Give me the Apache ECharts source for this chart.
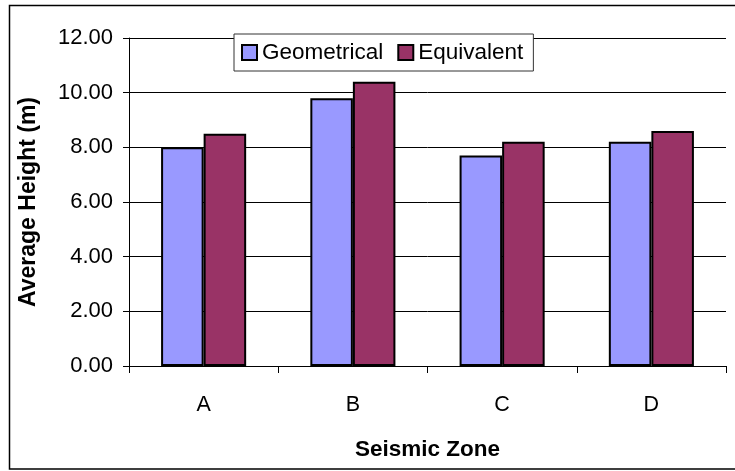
<!DOCTYPE html>
<html>
<head>
<meta charset="utf-8">
<script src="https://cdn.jsdelivr.net/npm/echarts@6/dist/echarts.min.js"></script>
<style>
html,body{margin:0;padding:0;background:#fff;}
#chart{width:735px;height:471px;}
</style>
</head>
<body>
<div id="chart"></div>
<script>
const categories = ['A', 'B', 'C', 'D'];
const geometrical = [8.0, 9.8, 7.7, 8.2];
const equivalent = [8.5, 10.4, 8.2, 8.6];
const seriesNames = ['Geometrical', 'Equivalent'];

const FONT = "'Liberation Sans', Arial, sans-serif";
const chart = echarts.init(document.getElementById('chart'), null, {renderer: 'canvas'});
chart.setOption({
  animation: false,
  backgroundColor: '#fff',
  textStyle: {fontFamily: FONT, color: '#000'},
  graphic: [{
    type: 'rect',
    shape: {x: 9.5, y: 5.5, width: 740, height: 463.5},
    style: {fill: 'none', stroke: '#000', lineWidth: 1.5},
    z: 0
  }],
  grid: {left: 129, right: 9, top: 38, bottom: 105, containLabel: false},
  legend: {
    left: 234, top: 34,
    padding: [7, 10, 7, 7],
    itemWidth: 15, itemHeight: 15, itemGap: 14,
    backgroundColor: '#fff',
    borderColor: '#333', borderWidth: 1, borderRadius: 0,
    icon: 'rect',
    textStyle: {fontFamily: FONT, fontSize: 22.5, color: '#000', padding: [0, 0, 0, 0]},
    data: seriesNames
  },
  xAxis: {
    type: 'category',
    data: categories,
    name: 'Seismic Zone',
    nameLocation: 'middle',
    nameGap: 72,
    nameTextStyle: {fontFamily: FONT, fontSize: 22.5, fontWeight: 'bold', color: '#000'},
    axisLine: {lineStyle: {color: '#000', width: 1}},
    axisTick: {show: true, length: 7, lineStyle: {color: '#000'}},
    axisLabel: {fontFamily: FONT, fontSize: 21.5, color: '#000', margin: 28},
    splitLine: {show: false}
  },
  yAxis: {
    type: 'value',
    min: 0, max: 12, interval: 2,
    name: 'Average Height (m)',
    nameLocation: 'middle',
    nameGap: 89,
    nameTextStyle: {fontFamily: FONT, fontSize: 23, fontWeight: 'bold', color: '#000'},
    axisLine: {show: true, lineStyle: {color: '#000', width: 1}},
    axisTick: {show: true, length: 6, lineStyle: {color: '#000'}},
    axisLabel: {fontFamily: FONT, fontSize: 22, color: '#000', margin: 16,
      formatter: v => v.toFixed(2)},
    splitLine: {show: true, lineStyle: {color: '#000', width: 1}}
  },
  series: [
    {
      name: seriesNames[0], type: 'bar', data: geometrical,
      barGap: '0%', barCategoryGap: '43%',
      itemStyle: {color: '#9999FF', borderColor: '#000', borderWidth: 2}
    },
    {
      name: seriesNames[1], type: 'bar', data: equivalent,
      barGap: '0%', barCategoryGap: '43%',
      itemStyle: {color: '#993366', borderColor: '#000', borderWidth: 2}
    }
  ]
});
</script>
</body>
</html>
